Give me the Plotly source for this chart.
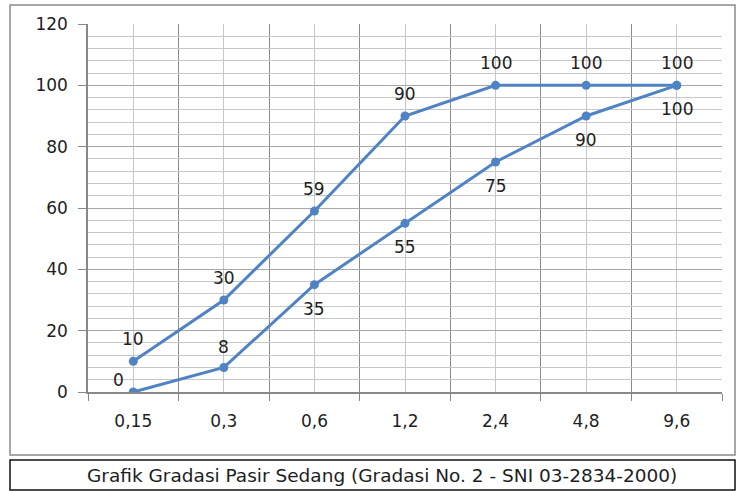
import plotly.graph_objects as go

categories = ["0,15", "0,3", "0,6", "1,2", "2,4", "4,8", "9,6"]
upper_limit = [10, 30, 59, 90, 100, 100, 100]
lower_limit = [0, 8, 35, 55, 75, 90, 100]
y_ticks = [0, 20, 40, 60, 80, 100, 120]
title_text = "Grafik Gradasi Pasir Sedang (Gradasi No. 2 - SNI 03-2834-2000)"

W, H = 738, 491
L, R, T, B = 88, 16, 24, 99
PW, PH = W - L - R, H - T - B
FONT = "DejaVu Sans"
COLOR = "#5083C4"
TXT = "#1e1e1e"

def px_x(x):
    return (x - L) / PW

def px_y(y):
    return (H - B - y) / PH

xs = list(range(len(categories)))

fig = go.Figure()
for series in (upper_limit, lower_limit):
    fig.add_trace(go.Scatter(x=xs, y=series, mode="lines+markers",
                             line=dict(color=COLOR, width=3),
                             marker=dict(color=COLOR, size=9), showlegend=False))

annotations = []
for i, v in enumerate(upper_limit):
    annotations.append(dict(x=xs[i], y=v, text=str(v), showarrow=False,
                            yshift=22, font=dict(family=FONT, size=17, color=TXT)))
for i, v in enumerate(lower_limit):
    if i == 0:
        xsft, ysft = -15, 12
    elif i == 1:
        xsft, ysft = 0, 20
    else:
        xsft, ysft = 0, -24
    annotations.append(dict(x=xs[i], y=v, text=str(v), showarrow=False,
                            xshift=xsft, yshift=ysft,
                            font=dict(family=FONT, size=17, color=TXT)))

annotations.append(dict(xref="paper", yref="paper", x=px_x(382), y=px_y(475),
                        text=title_text, showarrow=False, xanchor="center", yanchor="middle",
                        font=dict(family=FONT, size=18.5, color=TXT)))

shapes = [
    dict(type="rect", xref="paper", yref="paper",
         x0=px_x(10), x1=px_x(735), y0=px_y(455), y1=px_y(5),
         line=dict(color="#8c8c8c", width=1.5), layer="below"),
    dict(type="rect", xref="paper", yref="paper",
         x0=px_x(10), x1=px_x(735), y0=px_y(490), y1=px_y(460),
         line=dict(color="#111", width=1.5), layer="below"),
]

fig.update_layout(
    width=W, height=H,
    margin=dict(l=L, r=R, t=T, b=B),
    paper_bgcolor="white", plot_bgcolor="white",
    annotations=annotations, shapes=shapes,
    font=dict(family=FONT, size=17, color=TXT),
)

fig.update_xaxes(
    range=[-0.5, len(categories) - 0.5],
    tickmode="array", tickvals=xs, ticktext=categories,
    showgrid=True, gridcolor="#c8c8c8", gridwidth=1,
    ticks="", zeroline=False,
    showline=True, linecolor="#888", linewidth=1.5,
    ticklabelstandoff=13,
    minor=dict(tick0=-0.5, dtick=1, showgrid=True, gridcolor="#8a8a8a", gridwidth=1,
               ticks="outside", ticklen=7, tickcolor="#888"),
    tickfont=dict(family=FONT, size=17, color=TXT),
    fixedrange=True,
)
fig.update_yaxes(
    range=[0, 120], tickmode="array", tickvals=y_ticks,
    showgrid=True, gridcolor="#a8a8a8", gridwidth=1,
    ticks="outside", ticklen=8, tickcolor="#888",
    zeroline=False, showline=True, linecolor="#888", linewidth=1.5,
    minor=dict(dtick=4, showgrid=True, gridcolor="#c8c8c8", gridwidth=1),
    tickfont=dict(family=FONT, size=17, color=TXT),
    ticklabelstandoff=7,
    fixedrange=True,
)

fig.write_html("out.html", config={"displayModeBar": False},
               post_script="document.body.style.margin='0';document.body.style.padding='0';")
